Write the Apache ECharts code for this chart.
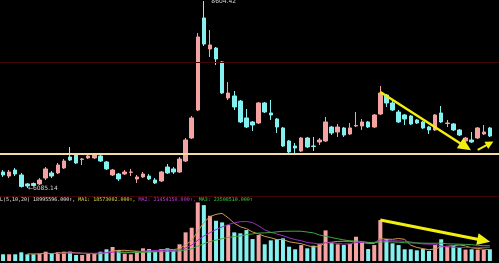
<!DOCTYPE html>
<html><head><meta charset="utf-8">
<script src="https://cdn.jsdelivr.net/npm/echarts@6/dist/echarts.min.js"></script>
<style>html,body{margin:0;padding:0;background:#000;}#c{width:499px;height:263px;}</style>
</head><body><div id="c"></div>
<script>
const categories = Array.from({length: 82}, (_, i) => 'D' + (i + 1));
const opens  = [6301,6247,6328,6261,6140,6146,6140,6220,6288,6288,6355,6503,6530,6470,6490,6490,6517,6436,6261,6274,6274,6297,6207,6234,6247,6193,6180,6368,6342,6301,6449,6759,7136,8376,7958,7971,7783,7298,7325,7257,7029,6975,6961,7231,7096,7015,6894,6719,6651,6584,6759,6651,6705,6719,6907,6840,6894,6813,6921,6921,6975,6907,7082,7338,7231,7109,7069,7055,7002,6975,6907,6867,7096,6954,6948,6867,6719,6732,6759,6813,6894];
const closes = [6261,6301,6274,6105,6113,6120,6193,6342,6247,6395,6449,6463,6422,6476,6517,6530,6449,6342,6328,6207,6301,6301,6234,6274,6207,6153,6301,6288,6301,6476,6732,7029,8120,8025,8012,7823,7365,7365,7177,6975,6907,6934,7231,7109,7069,6907,6651,6571,6624,6759,6638,6645,6732,6975,6826,6907,6799,6894,6928,6975,6907,7069,7365,7231,7136,6975,7015,6948,6961,6894,6867,7069,6975,6961,6867,6799,6759,6705,6894,6840,6786];
const lows   = [6234,6220,6247,6092,6085.14,6106,6126,6193,6220,6274,6342,6449,6409,6395,6476,6476,6436,6328,6247,6180,6261,6247,6153,6220,6193,6140,6166,6274,6274,6288,6436,6746,7123,7998,7850,7742,7352,7271,7136,6961,6894,6853,6948,7096,7002,6826,6638,6557,6557,6571,6624,6584,6665,6705,6799,6773,6773,6799,6907,6867,6894,6894,7069,7177,7123,6961,6934,6934,6948,6880,6813,6853,6961,6907,6853,6786,6705,6692,6746,6799,6773];
const highs  = [6328,6328,6355,6288,6153,6160,6220,6368,6315,6422,6476,6638,6557,6490,6544,6557,6544,6449,6342,6288,6328,6342,6261,6301,6274,6220,6315,6409,6368,6503,6759,7055,8173,8604.42,8214,7985,7796,7513,7392,7271,7150,6988,7244,7244,7271,7029,6907,6732,6692,6773,6773,6773,6759,7042,6921,6948,6907,6961,7109,7015,6988,7082,7460,7352,7257,7136,7082,7069,7015,6988,6921,7082,7190,7002,6961,6880,6773,6840,6907,6934,6907];
// volume in millions of shares
const volumes = [10.9,10.9,10.9,14.1,10.9,10.9,11.9,15.1,11.9,14.1,15.1,15.1,9.7,9.7,11.9,11.9,15.1,19.0,22.7,17.8,11.9,10.9,16.2,20.6,19.4,15.1,19.4,20.6,17.8,27.1,46.5,54.0,95.1,90.7,73.4,65.3,62.7,58.3,46.5,44.9,50.2,35.6,42.1,27.1,33.5,35.6,36.8,23.2,19.0,25.9,20.6,24.8,28.0,49.7,29.6,27.1,25.9,28.0,39.4,30.3,19.4,25.9,66.4,35.6,28.7,25.9,19.0,19.0,17.3,19.4,16.2,25.9,35.2,23.2,24.3,21.5,18.5,19.0,18.5,18.0,19.0];
const ma5  = ['-','-','-','-',11.5,11.5,11.7,12.6,12.1,12.8,13.6,14.3,13.2,12.7,12.3,11.7,11.7,13.5,16.1,17.3,17.3,16.5,15.9,15.5,15.8,16.4,18.1,19.0,18.5,20.0,26.3,33.2,48.1,62.7,71.9,75.7,77.4,70.1,61.2,55.5,52.5,47.1,43.9,40.0,37.7,34.8,35.0,31.2,29.6,28.1,25.1,22.7,23.7,29.8,30.5,31.8,32.1,32.1,30.0,30.1,28.6,28.6,36.3,35.5,35.2,36.5,35.1,25.6,22.0,20.1,18.2,19.6,22.8,24.0,25.0,26.0,24.5,21.3,20.4,19.1,18.6];
const ma10 = ['-','-','-','-','-','-','-','-','-',12.2,12.6,13.0,12.9,12.4,12.5,12.6,13.0,13.4,14.4,14.8,14.5,14.1,14.7,15.8,16.6,16.9,17.3,17.5,17.0,17.9,21.4,25.7,33.6,40.6,46.0,51.0,55.3,59.1,62.0,63.7,64.1,62.3,57.0,50.6,46.6,43.7,41.1,37.6,34.8,32.9,29.9,28.9,27.5,29.7,29.3,28.5,27.4,27.9,29.9,30.3,30.2,30.3,34.2,32.8,32.7,32.6,31.9,31.0,28.8,27.7,27.3,27.3,24.2,23.0,22.5,22.1,22.1,22.1,22.2,22.0,22.3];
const ma20 = ['-','-','-','-','-','-','-','-','-','-','-','-','-','-','-','-','-','-','-',13.5,13.5,13.5,13.8,14.1,14.5,14.8,15.1,15.4,15.7,16.4,17.9,19.9,24.1,28.2,31.3,33.9,36.3,38.3,39.5,40.8,42.7,44.0,45.3,45.6,46.3,47.3,48.2,48.3,48.4,48.3,47.0,45.6,42.2,40.2,38.0,36.1,34.2,32.7,32.4,31.6,30.1,29.6,30.8,31.2,31.0,30.5,29.6,29.4,29.3,29.0,28.8,28.8,29.2,27.9,27.6,27.3,27.0,26.5,25.5,24.8,24.8];
const highLabel = '8604.42';
const lowLabel = '←6085.14';
const supportLevel = 6544;
const headerText = ['L(5,10,20) 18995596.000↑,', 'MA1: 18573002.000↑,', 'MA2: 21454150.000↑,', 'MA3: 23508510.000↑'];

const PINK = '#f5a2a2', CYAN = '#84f0f0', YEL = '#f2ee10', DARKRED = '#420404';
const candleData = opens.map((o, i) => [o, closes[i], lows[i], highs[i]]);
const volData = volumes.map((v, i) => ({value: v, itemStyle: {color: closes[i] >= opens[i] ? PINK : CYAN}}));

const chart = echarts.init(document.getElementById('c'), null, {renderer: 'canvas'});
const hiddenX = {type: 'category', data: categories, boundaryGap: true, axisLine: {show: false}, axisTick: {show: false}, axisLabel: {show: false}, splitLine: {show: false}};
chart.setOption({
  backgroundColor: '#000',
  animation: false,
  grid: [
    {left: 0, right: 0, top: 0, height: 193},
    {left: 0, right: 0, top: 196, height: 65}
  ],
  xAxis: [Object.assign({gridIndex: 0}, hiddenX), Object.assign({gridIndex: 1}, hiddenX)],
  yAxis: [
    {gridIndex: 0, min: 6018, max: 8618, show: false, splitLine: {show: false}},
    {gridIndex: 1, min: 0, max: 105.5, show: false, splitLine: {show: false}}
  ],
  graphic: [{
    type: 'text', left: 0, top: 197, z: 100,
    style: {
      text: '{w|' + headerText[0] + '} {y|' + headerText[1] + '} {p|' + headerText[2] + '} {g|' + headerText[3] + '}',
      rich: {
        w: {fill: '#e6e6e6', fontSize: 5, fontFamily: 'DejaVu Sans Mono'},
        y: {fill: '#e2dc4a', fontSize: 5, fontFamily: 'DejaVu Sans Mono'},
        p: {fill: '#c040e0', fontSize: 5, fontFamily: 'DejaVu Sans Mono'},
        g: {fill: '#3cd040', fontSize: 5, fontFamily: 'DejaVu Sans Mono'}
      },
      fontSize: 5, fontFamily: 'DejaVu Sans Mono'
    }
  }],
  series: [
    {
      type: 'candlestick', xAxisIndex: 0, yAxisIndex: 0, data: candleData, barWidth: 4,
      itemStyle: {color: PINK, color0: CYAN, borderColor: PINK, borderColor0: CYAN, borderWidth: 1},
      markLine: {
        silent: true, symbol: ['none', 'none'], label: {show: false}, animation: false,
        data: [
          {yAxis: 7783, lineStyle: {color: DARKRED, width: 1, type: 'solid'}},
          {yAxis: supportLevel, lineStyle: {color: '#f2dca0', width: 2, type: 'solid'}},
          [{coord: [62.3, 7379], symbol: 'none'}, {coord: [75.9, 6642], symbol: 'triangle', symbolSize: [12, 13], lineStyle: {color: YEL, width: 2.5, type: 'solid'}}],
          [{coord: [77.9, 6598], symbol: 'none'}, {coord: [79.6, 6685], symbol: 'triangle', symbolSize: [8, 8], lineStyle: {color: YEL, width: 2, type: 'solid'}}]
        ]
      },
      markPoint: {
        silent: true, symbol: 'circle', symbolSize: 1, itemStyle: {color: 'rgba(0,0,0,0)'},
        data: [
          {coord: [33, 8604.42], label: {show: true, position: 'right', distance: 7, formatter: highLabel, color: '#d0d0d0', fontSize: 6, fontFamily: 'DejaVu Sans'}},
          {coord: [4, 6085.14], label: {show: true, position: 'right', distance: 0, formatter: lowLabel, color: '#d0d0d0', fontSize: 6, fontFamily: 'DejaVu Sans'}}
        ]
      }
    },
    {
      type: 'bar', xAxisIndex: 1, yAxisIndex: 1, data: volData, barWidth: 4,
      markLine: {
        silent: true, symbol: ['none', 'none'], label: {show: false}, animation: false,
        data: [
          {yAxis: 105.5, lineStyle: {color: DARKRED, width: 1, type: 'solid'}},
          [{coord: [62, 66.5], symbol: 'none'}, {coord: [78.9, 33.3], symbol: 'triangle', symbolSize: [12, 13], lineStyle: {color: YEL, width: 3, type: 'solid'}}]
        ]
      }
    },
    {type: 'line', xAxisIndex: 1, yAxisIndex: 1, data: ma5, symbol: 'none', lineStyle: {color: '#d09850', width: 1}, z: 5},
    {type: 'line', xAxisIndex: 1, yAxisIndex: 1, data: ma10, symbol: 'none', lineStyle: {color: '#9a30c0', width: 1}, z: 5},
    {type: 'line', xAxisIndex: 1, yAxisIndex: 1, data: ma20, symbol: 'none', lineStyle: {color: '#40a840', width: 1}, z: 5}
  ]
});
</script></body></html>
